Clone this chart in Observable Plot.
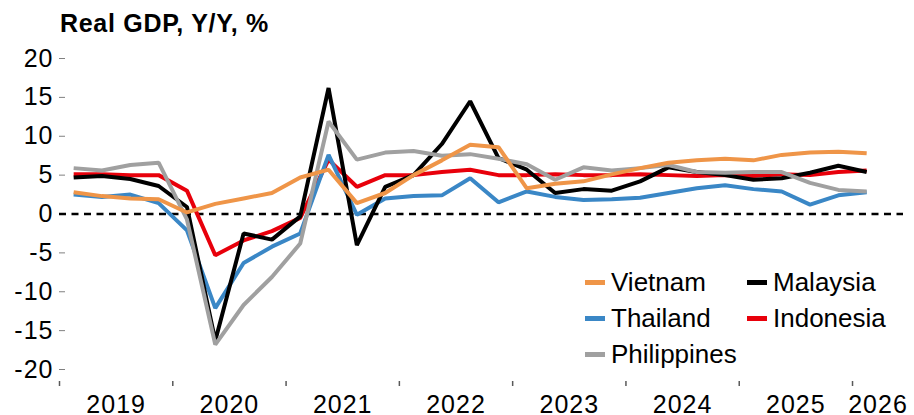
<!DOCTYPE html>
<html>
<head>
<meta charset="utf-8">
<script src="https://cdn.jsdelivr.net/npm/d3@7"></script>
<script src="https://cdn.jsdelivr.net/npm/@observablehq/plot@0.6"></script>
<style>
  body { margin: 0; background: #fff; font-family: "Liberation Sans", Arial, sans-serif; }
  #wrap { position: relative; width: 914px; height: 415px; overflow: hidden; }
  #title { position: absolute; left: 60px; top: 11px; font-weight: bold; font-size: 25px; letter-spacing: 0.7px; line-height: 25px; color: #000; white-space: nowrap; }
  .leg { position: absolute; height: 30px; display: flex; align-items: center; font-size: 26px; color: #000; white-space: nowrap; }
  .sw { width: 20px; height: 5px; margin-right: 6px; }
  svg { display: block; }
</style>
</head>
<body>
<div id="wrap"><div id="title">Real GDP, Y/Y, %</div></div>
<script>
const quarters = [
  "2019Q1","2019Q2","2019Q3","2019Q4",
  "2020Q1","2020Q2","2020Q3","2020Q4",
  "2021Q1","2021Q2","2021Q3","2021Q4",
  "2022Q1","2022Q2","2022Q3","2022Q4",
  "2023Q1","2023Q2","2023Q3","2023Q4",
  "2024Q1","2024Q2","2024Q3","2024Q4",
  "2025Q1","2025Q2","2025Q3","2025Q4",
  "2026Q1"
];
const vietnam     = [2.8, 2.3, 2.0, 1.9, 0.2, 1.3, 2.0, 2.7, 4.7, 5.7, 1.4, 2.7, 5.0, 6.9, 8.9, 8.6, 3.3, 3.9, 4.2, 5.1, 5.9, 6.6, 6.9, 7.1, 6.9, 7.6, 7.9, 8.0, 7.8];
const thailand    = [2.5, 2.2, 2.5, 1.4, -2.1, -12.1, -6.3, -4.2, -2.5, 7.6, -0.1, 2.0, 2.3, 2.4, 4.6, 1.5, 2.9, 2.2, 1.8, 1.9, 2.1, 2.7, 3.3, 3.7, 3.2, 2.9, 1.2, 2.4, 2.8];
const malaysia    = [4.7, 4.9, 4.5, 3.6, 0.9, -16.3, -2.5, -3.3, -0.3, 16.2, -4.0, 3.5, 5.0, 9.0, 14.5, 7.2, 5.7, 2.7, 3.2, 3.0, 4.2, 6.0, 5.4, 5.0, 4.4, 4.6, 5.3, 6.2, 5.4];
const indonesia   = [5.1, 5.1, 5.0, 5.0, 3.0, -5.3, -3.4, -2.2, -0.5, 7.0, 3.5, 5.0, 5.0, 5.4, 5.7, 5.0, 5.0, 5.1, 5.0, 5.0, 5.1, 5.0, 4.9, 5.0, 4.9, 5.1, 5.0, 5.4, 5.6];
const philippines = [5.9, 5.6, 6.3, 6.6, -0.7, -16.8, -11.7, -8.1, -3.8, 11.9, 7.0, 7.9, 8.1, 7.5, 7.7, 7.1, 6.4, 4.4, 6.0, 5.6, 5.9, 6.3, 5.4, 5.3, 5.4, 5.4, 4.0, 3.1, 2.9];

const seriesNames  = ["Indonesia", "Thailand", "Malaysia", "Philippines", "Vietnam"]; // drawing order
const seriesValues = [indonesia, thailand, malaysia, philippines, vietnam];
const seriesColors = ["#E8000B", "#3A87C6", "#000000", "#A0A0A0", "#EF9548"];

const yTicks = [20, 15, 10, 5, 0, -5, -10, -15, -20];
const yTickLabels = ["20", "15", "10", "5", "0", "-5", "-10", "-15", "-20"];
const yearTicks = [2019, 2020, 2021, 2022, 2023, 2024, 2025, 2026];
const yearLabels = ["2019", "2020", "2021", "2022", "2023", "2024", "2025", "2026"];
const xEnd = 2026.45;

const legendItems = [
  {name: "Vietnam", col: 0, row: 0},
  {name: "Malaysia", col: 1, row: 0},
  {name: "Thailand", col: 0, row: 1},
  {name: "Indonesia", col: 1, row: 1},
  {name: "Philippines", col: 0, row: 2}
];

// build table
const qx = q => +q.slice(0, 4) + (+q.slice(5) - 0.5) / 4;
const rows = [];
seriesNames.forEach((name, s) => {
  quarters.forEach((q, i) => rows.push({country: name, x: qx(q), value: seriesValues[s][i]}));
});

const labelPos = yearTicks.map((y, i) => i < yearTicks.length - 1 ? (y + yearTicks[i + 1]) / 2 : (y + xEnd) / 2);
const labelMap = new Map(labelPos.map((p, i) => [p, yearLabels[i]]));
const yLabelMap = new Map(yTicks.map((t, i) => [t, yTickLabels[i]]));

const chart = Plot.plot({
  width: 914,
  height: 415,
  marginLeft: 59,
  marginRight: 11,
  marginTop: 58,
  marginBottom: 34,
  x: {domain: [2019, xEnd], label: null},
  y: {domain: [-20, 20], insetBottom: 12, label: null},
  color: {domain: seriesNames, range: seriesColors},
  style: {fontFamily: '"Liberation Sans", Arial, sans-serif', fontSize: "25px", color: "#000", background: "#fff", overflow: "visible", letterSpacing: "1px"},
  marks: [
    Plot.axisY({ticks: yTicks, tickSize: 6, dx: 6, tickFormat: () => "", stroke: "#808080", label: null}),
    Plot.axisY({ticks: yTicks, tickSize: 0, tickPadding: 6, tickFormat: d => yLabelMap.get(d), fill: "#000", fontSize: 25, label: null}),
    Plot.axisX({ticks: yearTicks, tickSize: 5, tickFormat: () => "", stroke: "#595959", strokeWidth: 1.5, label: null}),
    Plot.axisX({ticks: labelPos, tickSize: 0, tickPadding: 14, tickFormat: d => labelMap.get(d), fill: "#000", fontSize: 25, label: null}),
    Plot.ruleY([0], {stroke: "#000", strokeWidth: 2.5, strokeDasharray: "7,5.5"}),
    Plot.line(rows, {x: "x", y: "value", z: "country", stroke: "country", strokeWidth: 4, strokeLinejoin: "miter", strokeLinecap: "butt"})
  ]
});

const wrap = document.getElementById("wrap");
wrap.insertBefore(chart, wrap.firstChild);

const colX = [585, 747];
const rowY = [282, 318, 354];
const colorOf = new Map(seriesNames.map((n, i) => [n, seriesColors[i]]));
legendItems.forEach(it => {
  const d = document.createElement("div");
  d.className = "leg";
  d.style.left = colX[it.col] + "px";
  d.style.top = (rowY[it.row] - 15) + "px";
  const sw = document.createElement("div");
  sw.className = "sw";
  sw.style.background = colorOf.get(it.name);
  d.appendChild(sw);
  d.appendChild(document.createTextNode(it.name));
  wrap.appendChild(d);
});
</script>
</body>
</html>
